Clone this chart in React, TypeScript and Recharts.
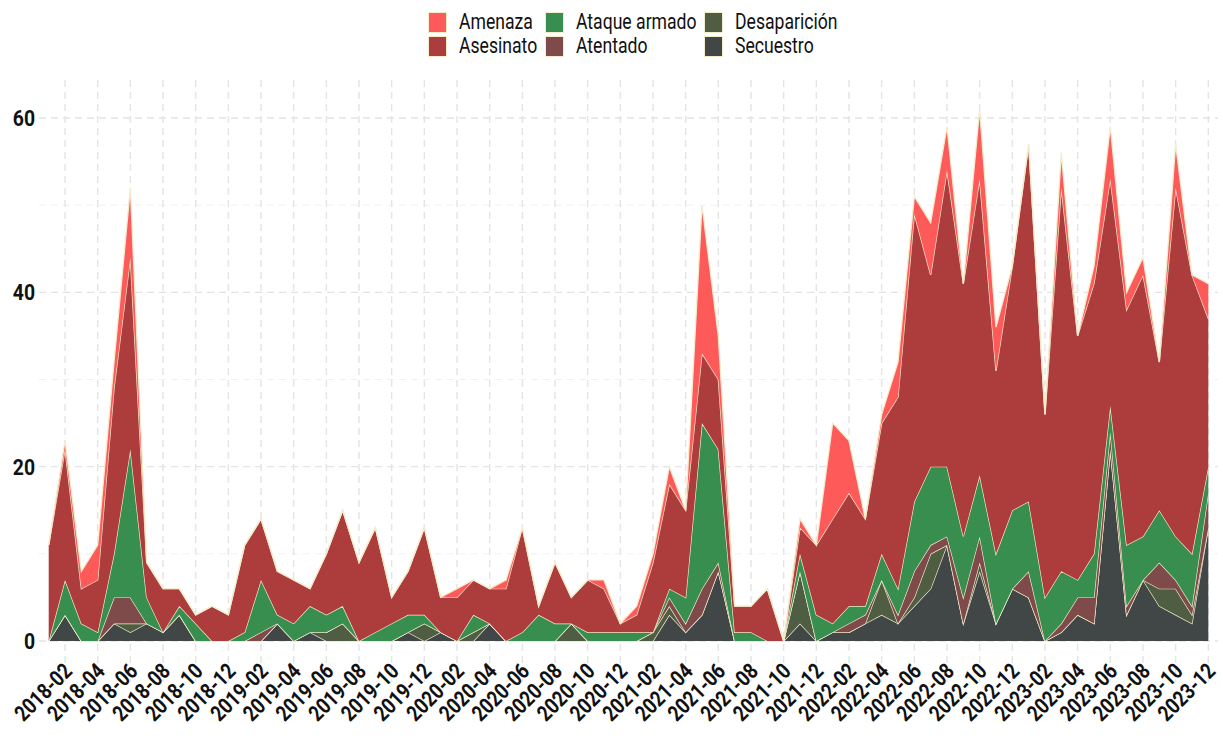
import React from 'react';
import { AreaChart, Area, XAxis, YAxis, CartesianGrid } from 'recharts';

const months = [
  '2018-01','2018-02','2018-03','2018-04','2018-05','2018-06','2018-07','2018-08','2018-09','2018-10','2018-11','2018-12',
  '2019-01','2019-02','2019-03','2019-04','2019-05','2019-06','2019-07','2019-08','2019-09','2019-10','2019-11','2019-12',
  '2020-01','2020-02','2020-03','2020-04','2020-05','2020-06','2020-07','2020-08','2020-09','2020-10','2020-11','2020-12',
  '2021-01','2021-02','2021-03','2021-04','2021-05','2021-06','2021-07','2021-08','2021-09','2021-10','2021-11','2021-12',
  '2022-01','2022-02','2022-03','2022-04','2022-05','2022-06','2022-07','2022-08','2022-09','2022-10','2022-11','2022-12',
  '2023-01','2023-02','2023-03','2023-04','2023-05','2023-06','2023-07','2023-08','2023-09','2023-10','2023-11','2023-12',
];

const secuestro = [0,3,0,0,2,1,2,1,3,0,0,0, 0,0,2,0,1,0,0,0,0,0,1,0, 1,0,0,2,0,0,0,0,0,0,0,0, 0,0,3,1,3,8,0,0,0,0,2,0, 1,1,2,3,2,4,6,11,2,8,2,6, 5,0,1,3,2,22,3,7,4,3,2,13];
const desaparicion = [0,0,0,0,0,1,0,0,0,0,0,0, 0,0,0,0,0,1,2,0,0,0,0,2, 0,0,1,0,0,0,0,0,2,0,0,0, 0,1,1,0,0,0,0,0,0,0,6,0, 0,0,0,4,0,1,4,0,0,1,0,0, 0,0,0,0,0,0,0,0,2,3,1,0];
const atentado = [0,0,0,0,3,3,0,0,0,0,0,0, 0,1,0,0,0,0,0,0,0,0,0,0, 0,0,0,0,0,0,0,0,0,0,0,0, 0,0,1,1,3,1,0,0,0,0,0,0, 0,1,1,0,1,3,1,1,3,3,0,0, 3,0,1,2,3,2,1,0,3,1,1,4];
const ataque = [0,4,2,1,5,17,3,0,1,2,0,0, 1,6,1,2,3,2,2,0,1,2,2,1, 0,0,2,0,0,1,3,2,0,1,1,1, 1,0,1,3,19,13,1,1,0,0,2,3, 1,2,1,3,3,8,9,8,7,7,8,9, 8,5,6,2,5,3,7,5,6,5,6,3];
const asesinato = [11,15,4,6,19,22,4,5,2,1,4,3, 10,7,5,5,2,7,11,9,12,3,5,10, 4,5,4,4,6,12,1,7,3,6,5,1, 2,8,12,10,8,8,3,3,6,0,3,8, 12,13,10,15,22,33,22,34,29,34,21,28, 41,21,44,28,31,26,27,30,17,40,32,17];
const amenaza = [0,1,2,4,3,8,0,0,0,0,0,0, 0,0,0,0,0,0,0,0,0,0,0,0, 0,1,0,0,1,0,0,0,0,0,1,0, 1,1,2,0,17,5,0,0,0,0,1,0, 11,6,0,1,4,2,6,5,0,8,5,0, 0,0,4,0,2,6,2,2,0,5,0,4];

const yTicks = [0, 20, 40, 60];
const yGridMajor = [0, 20, 40, 60];
const yGridMinor = [10, 30, 50];

const FONT = "Roboto, 'DejaVu Sans', sans-serif";
const STROKE = '#F3ECCD';

const series = [
  { key: 'secuestro', name: 'Secuestro', color: '#414747' },
  { key: 'desaparicion', name: 'Desaparición', color: '#4F5D42' },
  { key: 'atentado', name: 'Atentado', color: '#7E4A4A' },
  { key: 'ataque', name: 'Ataque armado', color: '#388E4F' },
  { key: 'asesinato', name: 'Asesinato', color: '#AD3C3C' },
  { key: 'amenaza', name: 'Amenaza', color: '#FF5A5A' },
];

const data = months.map((m, i) => ({
  i,
  month: m,
  secuestro: secuestro[i],
  desaparicion: desaparicion[i],
  atentado: atentado[i],
  ataque: ataque[i],
  asesinato: asesinato[i],
  amenaza: amenaza[i],
}));

const xTicks = months.map((_, i) => i).filter((i) => i % 2 === 1);

const legendCols = [
  ['amenaza', 'asesinato'],
  ['ataque', 'atentado'],
  ['desaparicion', 'secuestro'],
];
const legendColX = [428, 545, 704];

const W = 1223;
const H = 748;
const PLOT_TOP = 80;
const PLOT_BOTTOM = 668;

const XTick = (props: any) => {
  const { x, payload } = props;
  const label = months[payload.value];
  return (
    <g>
      <line x1={x} x2={x} y1={PLOT_BOTTOM} y2={PLOT_BOTTOM + 14} stroke="#e4e4e4" strokeWidth={1.3} strokeDasharray="6 5" />
      <text
        transform={`translate(${x - 3},${PLOT_BOTTOM - 7}) rotate(-45) scale(0.84,1)`}
        textAnchor="end"
        dy="0.74em"
        fontFamily={FONT}
        fontWeight={700}
        fontSize={22}
        fill="#111"
      >
        {label}
      </text>
    </g>
  );
};

const YTick = (props: any) => {
  const { y, payload } = props;
  return (
    <text
      transform={`translate(35,${y}) scale(0.88,1)`}
      dy="0.36em"
      textAnchor="end"
      fontFamily={FONT}
      fontWeight={700}
      fontSize={22}
      fill="#111"
    >
      {payload.value}
    </text>
  );
};

export default function App() {
  const byKey: Record<string, any> = {};
  series.forEach((s) => (byKey[s.key] = s));
  return (
    <div style={{ position: 'absolute', left: 0, top: 0, width: W, height: H, background: '#fff' }}>
      <AreaChart width={W} height={H} data={data} margin={{ top: PLOT_TOP, right: 5, left: 0, bottom: 0 }}>
        <CartesianGrid
          horizontalValues={yGridMinor}
          vertical={false}
          stroke="#f0f0f0"
          strokeWidth={1}
          strokeDasharray="7 5"
        />
        <CartesianGrid
          horizontalValues={yGridMajor}
          verticalValues={xTicks}
          stroke="#e4e4e4"
          strokeWidth={1.4}
          strokeDasharray="7 5"
        />
        <XAxis
          type="number"
          dataKey="i"
          domain={[-0.594, 71.594]}
          ticks={xTicks}
          interval={0}
          allowDataOverflow
          height={H - PLOT_BOTTOM}
          axisLine={false}
          tickLine={false}
          tick={<XTick />}
        />
        <YAxis
          type="number"
          domain={[-3.1, 64.36]}
          ticks={yTicks}
          allowDataOverflow
          width={39}
          axisLine={false}
          tickLine={false}
          tick={<YTick />}
        />
        {series.map((s) => (
          <Area
            key={s.key}
            type="linear"
            dataKey={s.key}
            name={s.name}
            stackId="1"
            fill={s.color}
            fillOpacity={1}
            stroke={STROKE}
            strokeWidth={1.3}
            isAnimationActive={false}
            dot={false}
            activeDot={false}
          />
        ))}
      </AreaChart>
      {legendCols.map((col, ci) =>
        col.map((k, ri) => {
          const s = byKey[k];
          return (
            <div key={k} style={{ position: 'absolute', left: legendColX[ci], top: 11 + ri * 24, height: 22, display: 'flex', alignItems: 'center' }}>
              <div style={{ width: 19, height: 21, background: s.color, border: `1.5px solid ${STROKE}`, boxSizing: 'border-box', flex: 'none' }} />
              <span
                style={{
                  marginLeft: 12,
                  fontFamily: FONT,
                  fontSize: 22,
                  color: '#111',
                  lineHeight: '22px',
                  whiteSpace: 'nowrap',
                  display: 'inline-block',
                  transform: 'scaleX(0.8)',
                  transformOrigin: 'left center',
                }}
              >
                {s.name}
              </span>
            </div>
          );
        })
      )}
    </div>
  );
}
